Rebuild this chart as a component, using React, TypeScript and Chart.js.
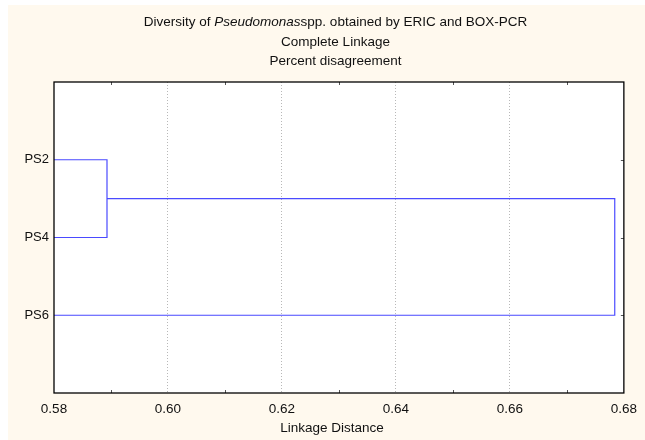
import React, { useEffect, useRef } from "react";
import { Chart, registerables } from "chart.js";

Chart.register(...registerables);

// ---- data ----
const leafLabels = ["PS2", "PS4", "PS6"];
const leafPositions = [1, 2, 3];
// linkage distances at which clusters merge: (PS2,PS4) then ((PS2,PS4),PS6)
const mergeDistances = [0.5893, 0.6784];
const xTickValues = [0.58, 0.6, 0.62, 0.64, 0.66, 0.68];
const xMinorTickValues = [0.59, 0.61, 0.63, 0.65, 0.67];
const titleLine2 = "Complete Linkage";
const titleLine3 = "Percent disagreement";
const xAxisTitle = "Linkage Distance";

const X_MIN = 0.58;
const X_MAX = 0.68;
const LINE_COLOR = "#4a4aff";
const BG = "#fff9ee";
const FONT = "'Liberation Sans', Arial, sans-serif";

export default function App() {
  const ref = useRef<HTMLCanvasElement | null>(null);

  useEffect(() => {
    const canvas = ref.current!;
    const [d1, d2] = mergeDistances;
    const [p1, p2, p3] = leafPositions;
    const mid = (p1 + p2) / 2;

    const clusterA = [
      { x: X_MIN, y: p1 },
      { x: d1, y: p1 },
      { x: d1, y: p2 },
      { x: X_MIN, y: p2 },
    ];
    const clusterB = [
      { x: d1, y: mid },
      { x: d2, y: mid },
      { x: d2, y: p3 },
      { x: X_MIN, y: p3 },
    ];

    const decor = {
      id: "decor",
      beforeDraw(chart: any) {
        const { ctx, chartArea: a } = chart;
        ctx.save();
        ctx.fillStyle = BG;
        ctx.fillRect(8, 5, chart.width - 8, chart.height - 5);
        ctx.fillStyle = "#ffffff";
        ctx.fillRect(a.left, a.top, a.right - a.left, a.bottom - a.top);
        ctx.restore();
      },
      beforeDatasetsDraw(chart: any) {
        const { ctx, chartArea: a, scales } = chart;
        ctx.save();
        ctx.strokeStyle = "#555";
        ctx.lineWidth = 1;
        xMinorTickValues.forEach((v) => {
          const x = Math.round(scales.x.getPixelForValue(v)) + 0.5;
          ctx.beginPath();
          ctx.moveTo(x, a.bottom);
          ctx.lineTo(x, a.bottom - 3);
          ctx.moveTo(x, a.top);
          ctx.lineTo(x, a.top + 3);
          ctx.stroke();
        });
        leafPositions.forEach((v) => {
          const y = Math.round(scales.y.getPixelForValue(v)) + 0.5;
          ctx.beginPath();
          ctx.moveTo(a.right, y);
          ctx.lineTo(a.right - 3, y);
          ctx.stroke();
        });
        ctx.restore();
      },
      afterDraw(chart: any) {
        const { ctx, chartArea: a } = chart;
        ctx.save();
        // border
        ctx.strokeStyle = "#000";
        ctx.lineWidth = 1.3;
        ctx.strokeRect(a.left, a.top, a.right - a.left, a.bottom - a.top);
        // title
        ctx.fillStyle = "#111";
        ctx.textBaseline = "middle";
        const cx = 335.5;
        const n = "13.5px " + FONT;
        const it = "italic 13.5px " + FONT;
        const parts: [string, string][] = [
          ["Diversity of ", n],
          ["Pseudomonas", it],
          ["spp. obtained by ERIC and BOX-PCR", n],
        ];
        let total = 0;
        parts.forEach(([t, f]) => {
          ctx.font = f;
          total += ctx.measureText(t).width;
        });
        let x = cx - total / 2;
        ctx.textAlign = "left";
        parts.forEach(([t, f]) => {
          ctx.font = f;
          ctx.fillText(t, x, 22);
          x += ctx.measureText(t).width;
        });
        ctx.font = n;
        ctx.textAlign = "center";
        ctx.fillText(titleLine2, cx, 42);
        ctx.fillText(titleLine3, cx, 61.5);
        // x axis title
        ctx.fillText(xAxisTitle, 332, 428);
        ctx.restore();
      },
    };

    const chart = new Chart(canvas, {
      type: "scatter",
      data: {
        datasets: [
          { data: clusterA, showLine: true, borderColor: LINE_COLOR, borderWidth: 1.2, pointRadius: 0, fill: false },
          { data: clusterB, showLine: true, borderColor: LINE_COLOR, borderWidth: 1.2, pointRadius: 0, fill: false },
        ],
      },
      options: {
        animation: false,
        responsive: false,
        maintainAspectRatio: false,
        layout: { padding: { left: 0, right: 20, top: 82, bottom: 0 } },
        plugins: { legend: { display: false }, tooltip: { enabled: false }, title: { display: false } },
        scales: {
          x: {
            type: "linear",
            min: X_MIN,
            max: X_MAX,
            afterBuildTicks: (s: any) => {
              s.ticks = xTickValues.map((v) => ({ value: v }));
            },
            afterFit: (s: any) => {
              s.height = 47;
            },
            ticks: {
              color: "#111",
              font: { family: FONT, size: 13.5 },
              padding: 8,
              maxRotation: 0,
              autoSkip: false,
              callback: (v: any) => Number(v).toFixed(2),
            },
            grid: {
              drawTicks: false,
              color: (c: any) =>
                c.tick && (c.tick.value === X_MIN || c.tick.value === X_MAX) ? "rgba(0,0,0,0)" : "#b8b8b8",
              lineWidth: 1,
            },
            border: { display: false, dash: [1, 2] },
            title: { display: false },
          },
          y: {
            type: "linear",
            min: 0,
            max: 4,
            reverse: true,
            afterBuildTicks: (s: any) => {
              s.ticks = leafPositions.map((v) => ({ value: v }));
            },
            afterFit: (s: any) => {
              s.width = 54;
            },
            ticks: {
              color: "#111",
              font: { family: FONT, size: 13 },
              padding: 5,
              autoSkip: false,
              callback: (v: any) => leafLabels[leafPositions.indexOf(Number(v))] ?? "",
            },
            grid: { display: false, drawTicks: false },
            border: { display: false },
          },
        },
      },
      plugins: [decor],
    } as any);
    return () => chart.destroy();
  }, []);

  return (
    <div style={{ position: "absolute", left: 0, top: 0, width: 645, height: 440 }}>
      <canvas ref={ref} width={645} height={440} style={{ width: 645, height: 440 }} />
    </div>
  );
}
